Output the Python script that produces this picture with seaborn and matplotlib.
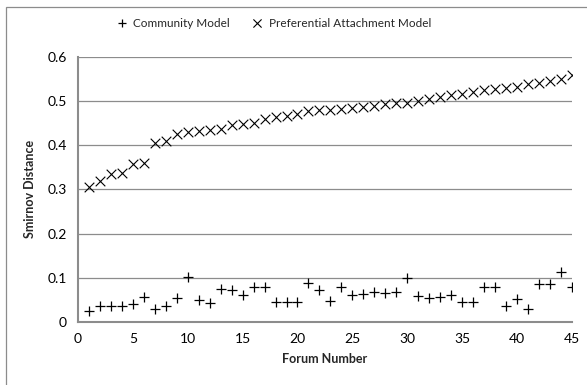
import matplotlib
matplotlib.use('Agg')
import matplotlib.pyplot as plt
import seaborn as sns
import pandas as pd
from matplotlib.patches import Rectangle

# data
forum = list(range(1, 46))
community = [0.025, 0.035, 0.037, 0.035, 0.040, 0.057, 0.030, 0.037, 0.055, 0.102,
             0.050, 0.043, 0.075, 0.072, 0.060, 0.078, 0.078, 0.045, 0.045, 0.045,
             0.087, 0.072, 0.048, 0.080, 0.060, 0.063, 0.068, 0.065, 0.067, 0.100,
             0.058, 0.055, 0.057, 0.060, 0.045, 0.045, 0.080, 0.080, 0.035, 0.052,
             0.030, 0.085, 0.085, 0.113, 0.080]
pref_attach = [0.305, 0.320, 0.335, 0.338, 0.358, 0.360, 0.405, 0.410, 0.425, 0.430,
               0.433, 0.435, 0.437, 0.445, 0.448, 0.450, 0.460, 0.465, 0.467, 0.470,
               0.478, 0.480, 0.480, 0.483, 0.485, 0.487, 0.490, 0.493, 0.495, 0.495,
               0.500, 0.505, 0.510, 0.515, 0.517, 0.520, 0.525, 0.528, 0.530, 0.532,
               0.538, 0.540, 0.545, 0.550, 0.560]

df = pd.DataFrame({'forum': forum, 'community': community, 'pref': pref_attach})

sns.set_style('white')
plt.rcParams['font.family'] = ['Lato', 'DejaVu Sans']

fig = plt.figure(figsize=(5.87, 3.85), dpi=100)
ax = fig.add_axes([0.133, 0.164, 0.841, 0.688])

sns.scatterplot(data=df, x='forum', y='community', marker='+', s=55, color='black',
                linewidth=0.9, label='Community Model', ax=ax, zorder=3)
sns.scatterplot(data=df, x='forum', y='pref', marker='x', s=48, color='black',
                linewidth=0.8, label='Preferential Attachment Model', ax=ax, zorder=3)

ax.set_xlim(0, 45)
ax.set_ylim(0, 0.6)
ax.set_xticks(range(0, 46, 5))
ax.set_yticks([0, 0.1, 0.2, 0.3, 0.4, 0.5, 0.6])
ax.set_yticklabels(['0', '0.1', '0.2', '0.3', '0.4', '0.5', '0.6'])
ax.tick_params(axis='both', length=0, labelsize=10, pad=8, colors='black')
ax.grid(True, axis='y', color='#8c8c8c', linewidth=0.9)
ax.set_axisbelow(True)
for side in ['top', 'right']:
    ax.spines[side].set_visible(False)
for side in ['left', 'bottom']:
    ax.spines[side].set_color('#8c8c8c')
    ax.spines[side].set_linewidth(1.5)

ax.set_xlabel('Forum Number', fontsize=9, fontweight='bold', labelpad=6)
ax.set_ylabel('Smirnov Distance', fontsize=9, fontweight='bold', labelpad=8)

ax.legend(loc='center', bbox_to_anchor=(0.39, 1.128), ncol=2, frameon=False,
          fontsize=8.5, handletextpad=0.0, columnspacing=1.3, markerscale=0.85)

# outer chart frame
fig.patches.append(Rectangle((6 / 587, -0.02), 1.1, (385 - 7) / 385 + 0.02,
                             transform=fig.transFigure, fill=False,
                             edgecolor='#8c8c8c', linewidth=0.9))

fig.savefig('out.png', dpi=100)
